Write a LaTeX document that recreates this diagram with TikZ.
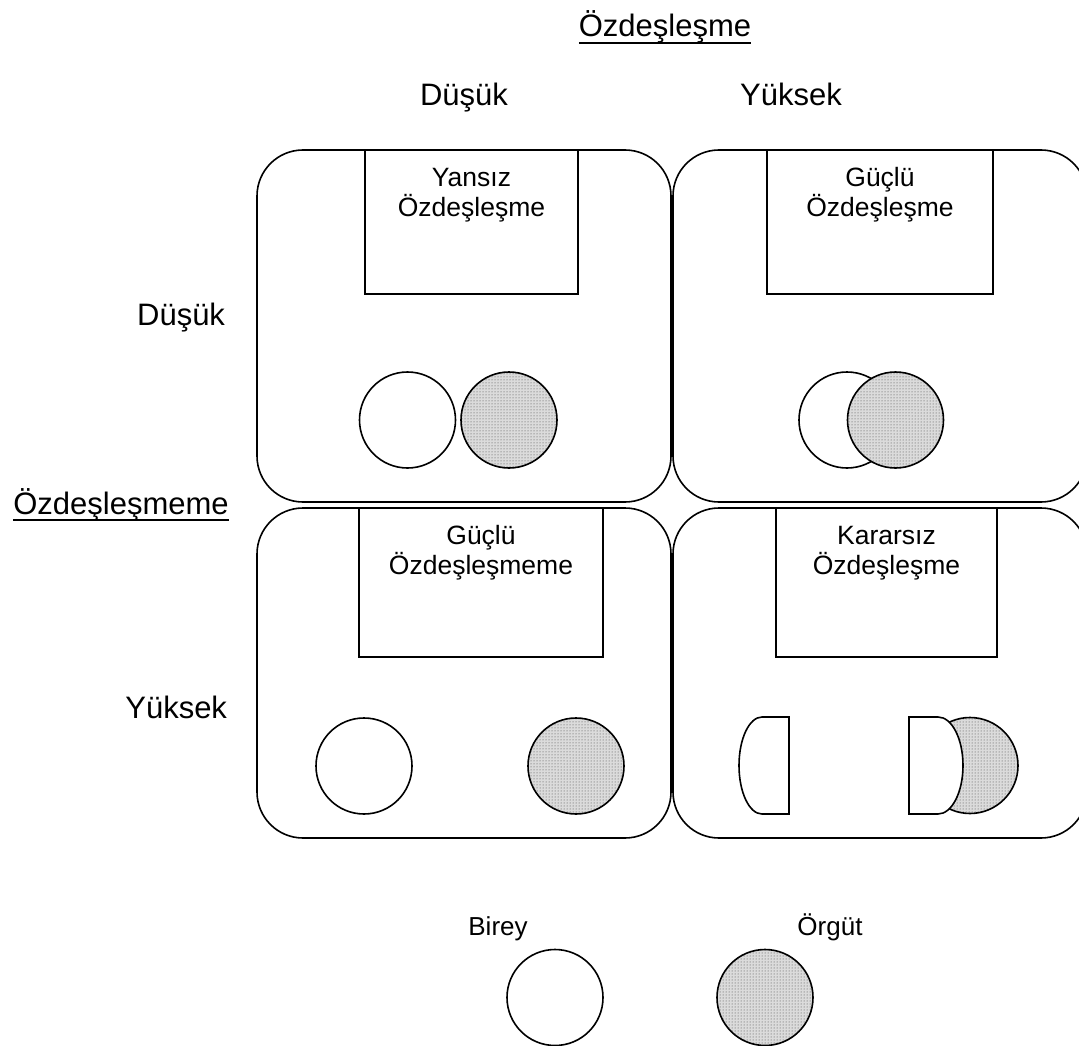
\documentclass[tikz,border=0pt]{standalone}
\usepackage{fontspec}
\setmainfont{Liberation Sans}
\usetikzlibrary{patterns}

\begin{document}
\begin{tikzpicture}[x=1pt,y=-1pt,
  every node/.style={inner sep=0pt, outer sep=0pt},
  axislabel/.style={font=\fontsize{31}{37}\selectfont},
  boxlabel/.style={font=\fontsize{26.5}{30}\selectfont, anchor=base},
  legendlabel/.style={font=\fontsize{26}{30}\selectfont, anchor=base},
  outline/.style={draw, line width=1.6pt},
  cell/.style={outline, rectangle, rounded corners=46pt, minimum width=414pt},
  stylebox/.style={outline, rectangle, fill=white},
  person/.style={outline, circle, fill=white, minimum size=96pt},
  organisation/.style={outline, circle, minimum size=96pt,
    preaction={fill=gray!28}, pattern=dots, pattern color=black!75},
  underlined/.style={line width=1.6pt}
]
\useasboundingbox (0,0) rectangle (1079,1046);
\clip (0,0) rectangle (1079,1046);

% axis titles
\node[axislabel, anchor=base] (xtitle) at (665,37) {Özdeşleşme};
\draw[underlined] ([yshift=-6pt]xtitle.base west) -- ([yshift=-6pt]xtitle.base east);
\node[axislabel, anchor=base] (xlow) at (464,106) {Düşük};
\node[axislabel, anchor=base] (xhigh) at (791,106) {Yüksek};

\node[axislabel, anchor=base] (ytitle) at (121,514) {Özdeşleşmeme};
\draw[underlined] ([yshift=-6pt]ytitle.base west) -- ([yshift=-6pt]ytitle.base east);
\node[axislabel, anchor=base east] (ylow) at (225,325) {Düşük};
\node[axislabel, anchor=base east] (yhigh) at (227,718) {Yüksek};

% quadrant cells
\node[cell, minimum height=352pt] (cellTL) at (464,326) {};
\node[cell, minimum height=352pt] (cellTR) at (880,326) {};
\node[cell, minimum height=330pt] (cellBL) at (464,673) {};
\node[cell, minimum height=330pt] (cellBR) at (880,673) {};

% identification style boxes
\node[stylebox, minimum width=213pt, minimum height=144pt] (boxTL) at (471.5,222) {};
\node[stylebox, minimum width=226pt, minimum height=144pt] (boxTR) at (880,222) {};
\node[stylebox, minimum width=244pt, minimum height=149pt] (boxBL) at (481,582.5) {};
\node[stylebox, minimum width=221pt, minimum height=149pt] (boxBR) at (886.5,582.5) {};

\node[boxlabel] (tTLa) at (471.5,186) {Yansız};
\node[boxlabel] (tTLb) at (471.5,216) {Özdeşleşme};
\node[boxlabel] (tTRa) at (880,186) {Güçlü};
\node[boxlabel] (tTRb) at (880,216) {Özdeşleşme};
\node[boxlabel] (tBLa) at (481,544) {Güçlü};
\node[boxlabel] (tBLb) at (481,574) {Özdeşleşmeme};
\node[boxlabel] (tBRa) at (886.5,544) {Kararsız};
\node[boxlabel] (tBRb) at (886.5,574) {Özdeşleşme};

% neutral: separate circles
\node[person] (pTL) at (407.5,420) {};
\node[organisation] (oTL) at (509,420) {};

% strong identification: overlapping circles
\node[person] (pTR) at (847,420) {};
\node[organisation] (oTR) at (895.5,420) {};

% strong disidentification: distant circles
\node[person] (pBL) at (364,766) {};
\node[organisation] (oBL) at (576,766) {};

% ambivalent: split individual (y axis points down, so angles run mirrored)
\node[organisation] (oBR) at (970,765.5) {};
\draw[outline, fill=white] (789,717) -- (762,717)
  arc[start angle=-90, end angle=-270, x radius=23, y radius=48.5]
  -- (789,814) -- cycle;
\draw[outline, fill=white] (909,717) -- (938,717)
  arc[start angle=-90, end angle=90, x radius=25, y radius=48.5]
  -- (909,814) -- cycle;

% legend
\node[legendlabel] (lperson) at (498,935) {Birey};
\node[legendlabel] (lorg) at (830,935) {Örgüt};
\node[person] (legP) at (555,997.5) {};
\node[organisation] (legO) at (765,997.5) {};
\end{tikzpicture}
\end{document}
